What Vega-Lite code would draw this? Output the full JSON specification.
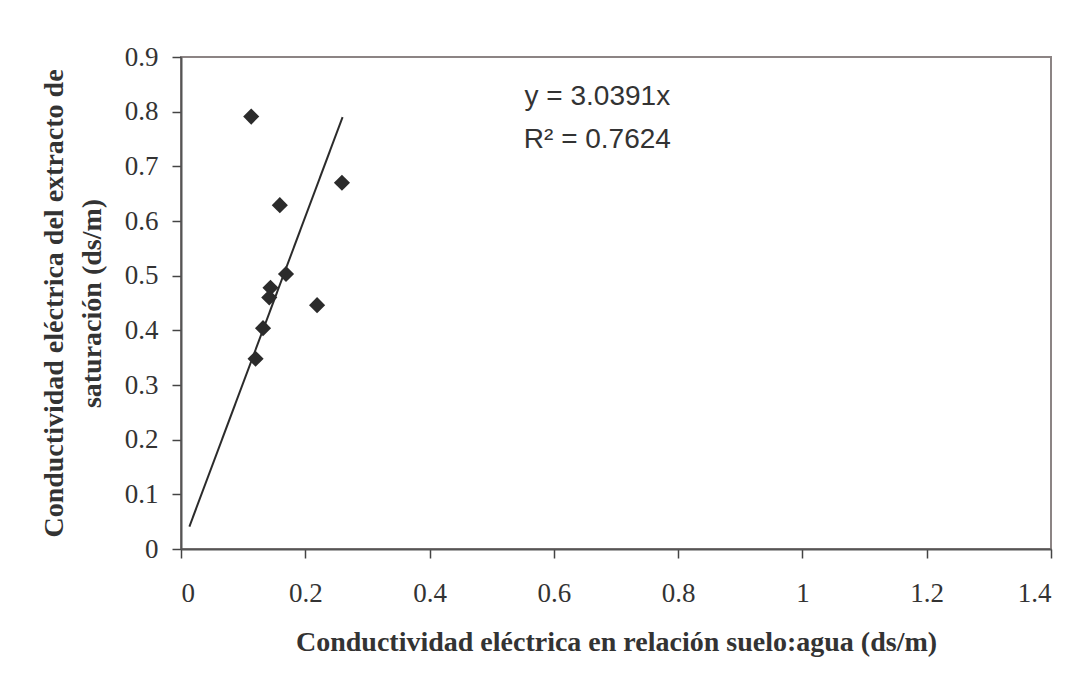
{
  "$schema": "https://vega.github.io/schema/vega-lite/v6.json",
  "width": 870,
  "height": 492,
  "autosize": {"type": "none"},
  "padding": {"left": 181, "top": 57, "right": 40, "bottom": 137},
  "background": "white",
  "config": {
    "view": {"stroke": "#8c8484", "strokeWidth": 2},
    "axis": {
      "grid": false,
      "domainColor": "#555555",
      "domainWidth": 2,
      "tickColor": "#444444",
      "tickWidth": 1.5,
      "tickSize": 9,
      "labelFont": "Liberation Serif",
      "labelFontSize": 27,
      "labelColor": "#333333",
      "titleFont": "Liberation Serif",
      "titleFontWeight": "bold",
      "titleFontSize": 28,
      "titleColor": "#333333"
    }
  },
  "datasets": {
    "muestras": [
      {"ce_suelo_agua": 0.113, "ce_extracto": 0.791},
      {"ce_suelo_agua": 0.259, "ce_extracto": 0.670},
      {"ce_suelo_agua": 0.159, "ce_extracto": 0.629},
      {"ce_suelo_agua": 0.169, "ce_extracto": 0.503},
      {"ce_suelo_agua": 0.144, "ce_extracto": 0.478},
      {"ce_suelo_agua": 0.142, "ce_extracto": 0.460},
      {"ce_suelo_agua": 0.219, "ce_extracto": 0.446},
      {"ce_suelo_agua": 0.132, "ce_extracto": 0.404},
      {"ce_suelo_agua": 0.120, "ce_extracto": 0.348}
    ],
    "tendencia": [
      {"ce_suelo_agua": 0.0135, "ce_extracto": 0.041},
      {"ce_suelo_agua": 0.26, "ce_extracto": 0.790}
    ],
    "ecuacion": [
      {"ce_suelo_agua": 0.67, "ce_extracto": 0.812, "texto": "y = 3.0391x"},
      {"ce_suelo_agua": 0.67, "ce_extracto": 0.733, "texto": "R² = 0.7624"}
    ]
  },
  "layer": [
    {
      "data": {"name": "tendencia"},
      "mark": {"type": "line", "color": "#2b2b2b", "strokeWidth": 2},
      "encoding": {
        "x": {
          "field": "ce_suelo_agua",
          "type": "quantitative",
          "scale": {"domain": [0, 1.4], "nice": false},
          "axis": {
            "values": [0, 0.2, 0.4, 0.6, 0.8, 1, 1.2, 1.4],
            "format": "~g",
            "labelPadding": 22,
            "titlePadding": 22,
            "title": "Conductividad eléctrica en relación suelo:agua (ds/m)"
          }
        },
        "y": {
          "field": "ce_extracto",
          "type": "quantitative",
          "scale": {"domain": [0, 0.9], "nice": false},
          "axis": {
            "values": [0, 0.1, 0.2, 0.3, 0.4, 0.5, 0.6, 0.7, 0.8, 0.9],
            "format": "~g",
            "labelPadding": 14,
            "titlePadding": 18,
            "titleLineHeight": 38,
            "title": ["Conductividad eléctrica del extracto de", "saturación (ds/m)"]
          }
        }
      }
    },
    {
      "data": {"name": "muestras"},
      "mark": {"type": "point", "shape": "diamond", "filled": true, "size": 260, "color": "#2b2b2b", "opacity": 1},
      "encoding": {
        "x": {"field": "ce_suelo_agua", "type": "quantitative"},
        "y": {"field": "ce_extracto", "type": "quantitative"}
      }
    },
    {
      "data": {"name": "ecuacion"},
      "mark": {"type": "text", "font": "Liberation Sans", "fontSize": 28, "color": "#333333", "align": "center", "baseline": "alphabetic"},
      "encoding": {
        "x": {"field": "ce_suelo_agua", "type": "quantitative"},
        "y": {"field": "ce_extracto", "type": "quantitative"},
        "text": {"field": "texto"}
      }
    }
  ]
}
